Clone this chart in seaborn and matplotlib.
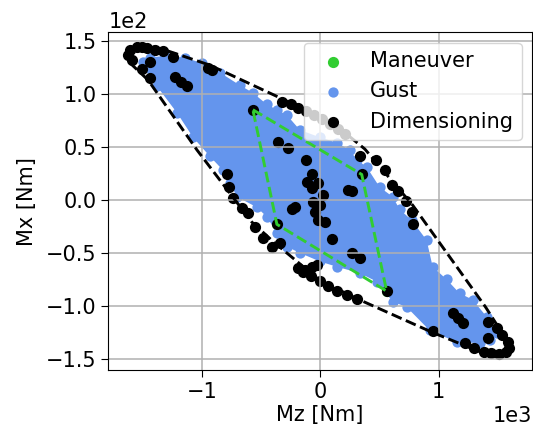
import matplotlib
matplotlib.use("Agg")
import matplotlib.pyplot as plt
import pandas as pd
import seaborn as sns

# Maneuver envelope corners (Mz, Mx) [Nm]
man_mz = [-570, 350, 561, -367]
man_mx = [85, 24, -86, -23]

# outline of the gust cloud [Nm]
gust_mz = [-1498, -1380, -1211, -1076, -933, -823, -764, -705, -536, -452,
           -367, -283, -173, -4, 139, 333, 477, 612, 730, 924,
           1152, 1346, 1431, 1490, 1405, 1287, 1177, 1068, 950, 899,
           772, 671, 612, 502, 392, 308, 249, 139, -4, -173,
           -283, -367, -452, -570, -679, -848, -1000, -1144, -1312, -1439,
           -1498]
gust_mx = [125, 107, 82, 59, 41, 28, 16, 3, -7, -16,
           -31, -44, -50, -58, -63, -69, -77, -96, -101, -123,
           -134, -135, -132, -125, -110, -94, -88, -75, -63, -38,
           -19, -9, 3, 12, 31, 38, 47, 54, 59, 66,
           80, 85, 90, 101, 108, 120, 129, 134, 136, 134,
           130]

# dashed envelope around the gust cloud [Nm]
hull_mz = [-1633, -1599, -1540, -1439, -1304, -933, -317, 190, 376, 781,
           1397, 1557, 1608, 1574, 1473, 1346, 950, 308, -4, -401,
           -578, -1042, -1456, -1608, -1633]
hull_mx = [135, 142, 145, 145, 141, 127, 95, 65, 48, -5,
           -101, -129, -140, -145, -146, -143, -125, -93, -76, -39,
           -21, 47, 113, 129, 135]

# dimensioning load cases [Nm]
dim_mz = [-1625, -1608, -1591, -1549, -1507, -1464, -1397, -1329, -1245, -1507,
          -1439, -1439, -1228, -1177, -1127, -950, -916, -325, -249, -190,
          -122, -55, 13, 80, 148, 207, 333, 468, 544, 603,
          654, 722, 772, 781, 350, 232, 266, 1118, 1161, 1203,
          1414, 1490, 1540, 1583, 1599, 1566, 1507, 1447, 1380, 1296,
          1220, 1414, 950, 308, 224, 139, 63, -4, -80, -148,
          -190, -131, -72, -30, 97, 266, 333, -789, -772, -739,
          -663, -612, -553, -485, -409, -367, -342, -359, -274, -122,
          -72, -114, -72, -21, 21, -63, -4, -46, -21, 38,
          -241, -215, -570, 561]
dim_mx = [137, 141, 132, 144, 144, 143, 141, 140, 135, 123,
          115, 130, 116, 111, 107, 124, 122, 92, 90, 87,
          84, 80, 76, 72, 67, 62, 41, 38, 28, 14,
          8, -1, -11, -23, 24, 9, 8, -107, -111, -116,
          -115, -121, -127, -134, -140, -143, -145, -144, -143, -140,
          -135, -130, -124, -93, -90, -86, -81, -76, -72, -68,
          -64, -66, -63, -61, -37, -50, -55, 24, 12, 2,
          -8, -12, -26, -36, -44, -23, -41, 55, 49, 38,
          24, 17, 11, 16, 5, -2, -5, -11, -19, -21,
          -9, -7, 85, -86]

x_ticks = [-1000, 0, 1000]
y_ticks = [-150, -100, -50, 0, 50, 100, 150]

sns.set_style("ticks", rc={
    "axes.edgecolor": "black",
    "axes.labelcolor": "black",
    "text.color": "black",
    "xtick.color": "black",
    "ytick.color": "black",
    "axes.grid": True,
    "axes.axisbelow": "line",
    "grid.color": "#b0b0b0",
})
plt.rcParams["font.family"] = ["DejaVu Sans"]
plt.rcParams["font.size"] = 15
plt.rcParams["grid.linewidth"] = 1.1
plt.rcParams["xtick.major.size"] = 5
plt.rcParams["ytick.major.size"] = 5

man_df = pd.DataFrame({"Mz": man_mz, "Mx": man_mx})
gust_df = pd.DataFrame({"Mz": gust_mz, "Mx": gust_mx})
dim_df = pd.DataFrame({"Mz": dim_mz, "Mx": dim_mx})

fig, ax = plt.subplots(figsize=(5.33, 4.25), dpi=100)
fig.subplots_adjust(left=0.203, right=0.998, bottom=0.129, top=0.924)

sns.scatterplot(data=man_df, x="Mz", y="Mx", color="limegreen", s=65,
                linewidth=0, label="Maneuver", ax=ax)
ax.fill(gust_df["Mz"], gust_df["Mx"], color="cornflowerblue", lw=0)
sns.scatterplot(data=gust_df, x="Mz", y="Mx", color="cornflowerblue", s=55,
                linewidth=0, label="Gust", ax=ax)
sns.scatterplot(data=dim_df, x="Mz", y="Mx", color="black", s=65,
                linewidth=0, label="Dimensioning", ax=ax)

ax.plot(hull_mz, hull_mx, color="black", ls="--", lw=2.1)
ax.plot(man_mz + man_mz[:1], man_mx + man_mx[:1], color="limegreen", ls="--", lw=2.1)

ax.set_xticks(x_ticks)
ax.set_yticks(y_ticks)
ax.set_xlim(-1793, 1789)
ax.set_ylim(-160.5, 158)
ax.ticklabel_format(style="sci", scilimits=(0, 0), axis="both")
ax.set_xlabel("Mz [Nm]", fontsize=15, labelpad=2)
ax.set_ylabel("Mx [Nm]", fontsize=15, labelpad=6)
ax.legend(loc="upper right", fontsize=15)

plt.savefig("out.png", dpi=100)
plt.close()
